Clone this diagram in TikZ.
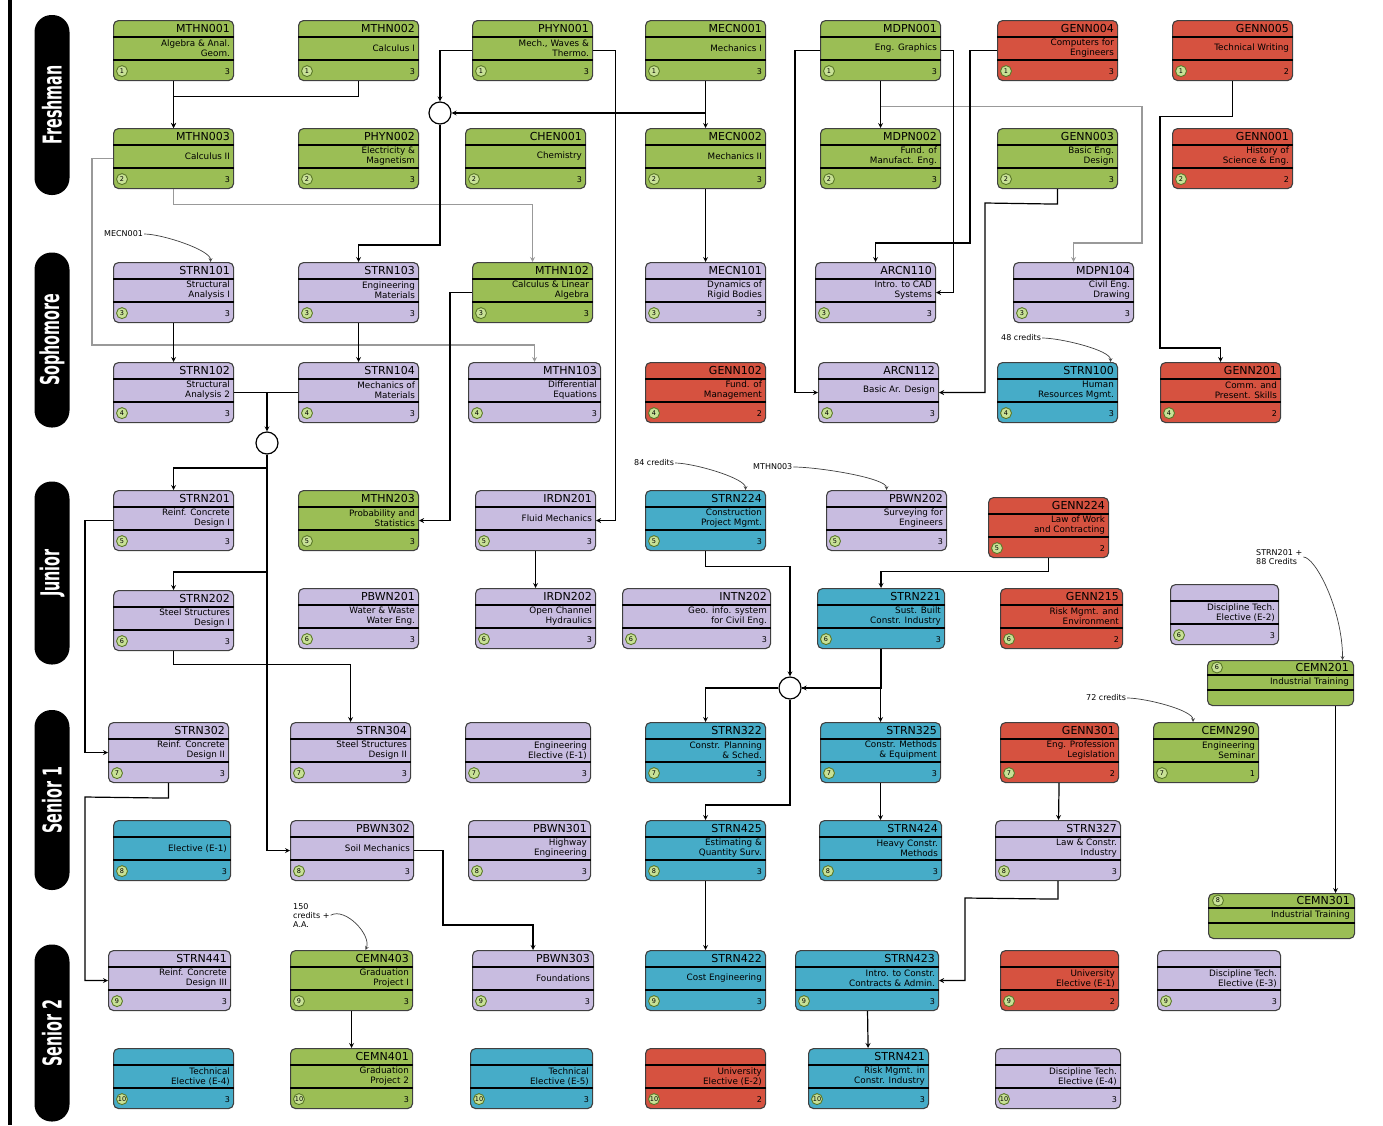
\documentclass[tikz,border=0pt]{standalone}
\usepackage{fontspec}
\usepackage{graphicx}
\setmainfont{DejaVu Sans}
\usetikzlibrary{calc}

\definecolor{crsgreen}{RGB}{155,190,85}
\definecolor{crspurple}{RGB}{200,188,224}
\definecolor{crsred}{RGB}{214,82,64}
\definecolor{crscyan}{RGB}{70,172,200}
\definecolor{semgreen}{RGB}{200,225,150}
\definecolor{semring}{RGB}{90,120,40}

\tikzset{
  course/.style={draw=black!75, line width=1.1pt, rounded corners=5pt, minimum height=60pt, inner sep=0pt},
  band/.style={line width=1.1pt, black},
  codetxt/.style={font=\fontsize{11}{12}\selectfont, inner sep=0pt},
  titletxt/.style={font=\fontsize{8.8}{10}\selectfont, align=right, inner sep=0pt},
  semdot/.style={circle, draw=semring, line width=0.9pt, fill=semgreen, minimum size=11pt, inner sep=0pt, font=\fontsize{6.5}{7}\selectfont},
  credtxt/.style={font=\fontsize{8}{8}\selectfont, inner sep=0pt},
  prereq/.style={->, line width=1.2pt},
  softreq/.style={->, line width=1.2pt, black!40},
  junction/.style={circle, draw, line width=1.2pt, fill=white, minimum size=22pt, inner sep=0pt},
  yearbar/.style={fill=black, text=white, rounded corners=17pt, minimum height=35pt, inner sep=0pt, rotate=90, font=\bfseries\fontsize{26}{26}\selectfont},
  annot/.style={->, line width=0.7pt, black!75},
  annottxt/.style={font=\fontsize{8}{9}\selectfont, inner sep=1pt, align=left},
}

% course box: [width] name, x, y, colour, code, title, semester, credits
\newcommand{\course}[9][120]{%
  \node[course, minimum width=#1pt, fill=#5, anchor=north west] (#2) at (#3,#4) {};
  \draw[band] ([yshift=-17pt]#2.north west) -- ([yshift=-17pt]#2.north east);
  \draw[band] ([yshift=-40pt]#2.north west) -- ([yshift=-40pt]#2.north east);
  \node[codetxt, anchor=east] (#2-code) at ([xshift=-4pt,yshift=-8.5pt]#2.north east) {#6};
  \node[titletxt, anchor=east] (#2-title) at ([xshift=-4pt,yshift=-28.5pt]#2.north east) {#7};
  \node[semdot] (#2-sem) at ([xshift=9pt,yshift=10pt]#2.south west) {#8};
  \node[credtxt, anchor=east] (#2-cr) at ([xshift=-4pt,yshift=10pt]#2.south east) {#9};
}
% training box: name, x, y, code, semester
\newcommand{\training}[5]{%
  \node[course, minimum width=146pt, minimum height=45pt, fill=crsgreen, anchor=north west] (#1) at (#2,#3) {};
  \draw[band] ([yshift=-15pt]#1.north west) -- ([yshift=-15pt]#1.north east);
  \draw[band] ([yshift=-30pt]#1.north west) -- ([yshift=-30pt]#1.north east);
  \node[semdot] (#1-sem) at ([xshift=10pt,yshift=-7.5pt]#1.north west) {#5};
  \node[codetxt, anchor=east] (#1-code) at ([xshift=-5pt,yshift=-7.5pt]#1.north east) {#4};
  \node[titletxt, anchor=east] (#1-title) at ([xshift=-5pt,yshift=-22.5pt]#1.north east) {Industrial Training};
}
\newcommand{\yeartext}[1]{\scalebox{0.55}[1]{#1}}

\begin{document}
\begin{tikzpicture}[x=1pt,y=-1pt,>=stealth]
  \fill[white] (0,0) rectangle (1383,1125);
  \useasboundingbox (0,0) rectangle (1383,1125);

  \draw[line width=4pt] (10,0) -- (10,1125);

  \node[yearbar, minimum width=180pt] (yr1) at (52,105) {\yeartext{Freshman}};
  \node[yearbar, minimum width=175pt] (yr2) at (52,340) {\yeartext{Sophomore}};
  \node[yearbar, minimum width=183pt] (yr3) at (52,573) {\yeartext{Junior}};
  \node[yearbar, minimum width=180pt] (yr4) at (52,800) {\yeartext{Senior 1}};
  \node[yearbar, minimum width=177pt] (yr5) at (52,1033) {\yeartext{Senior 2}};

  % Freshman
  \course{mthn1}{113}{20}{crsgreen}{MTHN001}{Algebra \& Anal.\\Geom.}{1}{3}
  \course{mthn2}{298}{20}{crsgreen}{MTHN002}{Calculus I}{1}{3}
  \course{phyn1}{472}{20}{crsgreen}{PHYN001}{Mech., Waves \&\\Thermo.}{1}{3}
  \course{mecn1}{645}{20}{crsgreen}{MECN001}{Mechanics I}{1}{3}
  \course{mdpn1}{820}{20}{crsgreen}{MDPN001}{Eng. Graphics}{1}{3}
  \course{genn4}{997}{20}{crsred}{GENN004}{Computers for\\Engineers}{1}{3}
  \course{genn5}{1172}{20}{crsred}{GENN005}{Technical Writing}{1}{2}

  \course{mthn3}{113}{128}{crsgreen}{MTHN003}{Calculus II}{2}{3}
  \course{phyn2}{298}{128}{crsgreen}{PHYN002}{Electricity \&\\Magnetism}{2}{3}
  \course{chen1}{465}{128}{crsgreen}{CHEN001}{Chemistry}{2}{3}
  \course{mecn2}{645}{128}{crsgreen}{MECN002}{Mechanics II}{2}{3}
  \course{mdpn2}{820}{128}{crsgreen}{MDPN002}{Fund. of\\Manufact. Eng.}{2}{3}
  \course{genn3}{997}{128}{crsgreen}{GENN003}{Basic Eng.\\Design}{2}{3}
  \course{genn1}{1172}{128}{crsred}{GENN001}{History of\\Science \& Eng.}{2}{2}

  % Sophomore
  \course{strn101}{113}{262}{crspurple}{STRN101}{Structural\\Analysis I}{3}{3}
  \course{strn103}{298}{262}{crspurple}{STRN103}{Engineering\\Materials}{3}{3}
  \course{mthn102}{472}{262}{crsgreen}{MTHN102}{Calculus \& Linear\\Algebra}{3}{3}
  \course{mecn101}{645}{262}{crspurple}{MECN101}{Dynamics of\\Rigid Bodies}{3}{3}
  \course{arcn110}{815}{262}{crspurple}{ARCN110}{Intro. to CAD\\Systems}{3}{3}
  \course{mdpn104}{1013}{262}{crspurple}{MDPN104}{Civil Eng.\\Drawing}{3}{3}

  \course{strn102}{113}{362}{crspurple}{STRN102}{Structural\\Analysis 2}{4}{3}
  \course{strn104}{298}{362}{crspurple}{STRN104}{Mechanics of\\Materials}{4}{3}
  \course[132]{mthn103}{468}{362}{crspurple}{MTHN103}{Differential\\Equations}{4}{3}
  \course{genn102}{645}{362}{crsred}{GENN102}{Fund. of\\Management}{4}{2}
  \course{arcn112}{818}{362}{crspurple}{ARCN112}{Basic Ar. Design}{4}{3}
  \course{strn100}{997}{362}{crscyan}{STRN100}{Human\\Resources Mgmt.}{4}{3}
  \course{genn201}{1160}{362}{crsred}{GENN201}{Comm. and\\Present. Skills}{4}{2}

  % Junior
  \course{strn201}{113}{490}{crspurple}{STRN201}{Reinf. Concrete\\Design I}{5}{3}
  \course{mthn203}{298}{490}{crsgreen}{MTHN203}{Probability and\\Statistics}{5}{3}
  \course{irdn201}{475}{490}{crspurple}{IRDN201}{Fluid Mechanics}{5}{3}
  \course{strn224}{645}{490}{crscyan}{STRN224}{Construction\\Project Mgmt.}{5}{3}
  \course{pbwn202}{826}{490}{crspurple}{PBWN202}{Surveying for\\Engineers}{5}{3}
  \course{genn224}{988}{497}{crsred}{GENN224}{Law of Work\\and Contracting}{5}{2}

  \course{strn202}{113}{590}{crspurple}{STRN202}{Steel Structures\\Design I}{6}{3}
  \course{pbwn201}{298}{588}{crspurple}{PBWN201}{Water \& Waste\\Water Eng.}{6}{3}
  \course{irdn202}{475}{588}{crspurple}{IRDN202}{Open Channel\\Hydraulics}{6}{3}
  \course[148]{intn202}{622}{588}{crspurple}{INTN202}{Geo. info. system\\for Civil Eng.}{6}{3}
  \course[127]{strn221}{817}{588}{crscyan}{STRN221}{Sust. Built\\Constr. Industry}{6}{3}
  \course[122]{genn215}{1000}{588}{crsred}{GENN215}{Risk Mgmt. and\\Environment}{6}{2}
  \course[108]{disc2}{1170}{584}{crspurple}{}{Discipline Tech.\\Elective (E-2)}{6}{3}

  \training{cemn201}{1207}{660}{CEMN201}{6}

  % Senior 1
  \course{strn302}{108}{722}{crspurple}{STRN302}{Reinf. Concrete\\Design II}{7}{3}
  \course{strn304}{290}{722}{crspurple}{STRN304}{Steel Structures\\Design II}{7}{3}
  \course[125]{engel1}{465}{722}{crspurple}{}{Engineering\\Elective (E-1)}{7}{3}
  \course{strn322}{645}{722}{crscyan}{STRN322}{Constr. Planning\\\& Sched.}{7}{3}
  \course{strn325}{820}{722}{crscyan}{STRN325}{Constr. Methods\\\& Equipment}{7}{3}
  \course[118]{genn301}{1000}{722}{crsred}{GENN301}{Eng. Profession\\Legislation}{7}{2}
  \course[105]{cemn290}{1153}{722}{crsgreen}{CEMN290}{Engineering\\Seminar}{7}{1}

  \course[117]{elec1}{113}{820}{crscyan}{}{Elective (E-1)}{8}{3}
  \course[123]{pbwn302}{290}{820}{crspurple}{PBWN302}{Soil Mechanics}{8}{3}
  \course[122]{pbwn301}{468}{820}{crspurple}{PBWN301}{Highway\\Engineering}{8}{3}
  \course{strn425}{645}{820}{crscyan}{STRN425}{Estimating \&\\Quantity Surv.}{8}{3}
  \course[122]{strn424}{819}{820}{crscyan}{STRN424}{Heavy Constr.\\Methods}{8}{3}
  \course[125]{strn327}{995}{820}{crspurple}{STRN327}{Law \& Constr.\\Industry}{8}{3}

  \training{cemn301}{1208}{893}{CEMN301}{8}

  % Senior 2
  \course[122]{strn441}{108}{950}{crspurple}{STRN441}{Reinf. Concrete\\Design III}{9}{3}
  \course[122]{cemn403}{290}{950}{crsgreen}{CEMN403}{Graduation\\Project I}{9}{3}
  \course[121]{pbwn303}{472}{950}{crspurple}{PBWN303}{Foundations}{9}{3}
  \course{strn422}{645}{950}{crscyan}{STRN422}{Cost Engineering}{9}{3}
  \course[143]{strn423}{795}{950}{crscyan}{STRN423}{Intro. to Constr.\\Contracts \& Admin.}{9}{3}
  \course[118]{univ1}{1000}{950}{crsred}{}{University\\Elective (E-1)}{9}{2}
  \course[123]{disc3}{1157}{950}{crspurple}{}{Discipline Tech.\\Elective (E-3)}{9}{3}

  \course{tech4}{113}{1048}{crscyan}{}{Technical\\Elective (E-4)}{10}{3}
  \course[122]{cemn401}{290}{1048}{crsgreen}{CEMN401}{Graduation\\Project 2}{10}{3}
  \course[122]{tech5}{470}{1048}{crscyan}{}{Technical\\Elective (E-5)}{10}{3}
  \course{univ2}{645}{1048}{crsred}{}{University\\Elective (E-2)}{10}{2}
  \course{strn421}{808}{1048}{crscyan}{STRN421}{Risk Mgmt. in\\Constr. Industry}{10}{3}
  \course[125]{disc4}{995}{1048}{crspurple}{}{Discipline Tech.\\Elective (E-4)}{10}{3}

  % junctions
  \node[junction] (and1) at (440,113) {};
  \node[junction] (and2) at (267,443) {};
  \node[junction] (and3) at (790,688) {};

  % grey prerequisites
  \draw[softreq] (mthn3.south) -- ++(0,15) -| (mthn102.north);
  \draw[softreq] (mthn3.west) -- ++(-21,0) -- (92,345) -| (mthn103.north);
  \draw[softreq] (mdpn1.south) -- ++(0,25) -| (1142,243) -| (mdpn104.north);

  % prerequisites
  \draw[prereq] (mthn1) -- (mthn3);
  \draw[prereq] (mthn2.south) -- ++(0,15) -| (mthn3.north);
  \draw[prereq] (phyn1.west) -| (and1.north);
  \draw[prereq] (mecn1) -- (mecn2);
  \draw[prereq] (mecn1.south |- and1) -- (and1.east);
  \draw[prereq] (and1.south) -- (440,245) -| (strn103.north);
  \draw[prereq] (strn101) -- (strn102);
  \draw[prereq] (strn103) -- (strn104);
  \draw[prereq] (mthn102.west) -- ++(-22,0) |- (mthn203.east);
  \draw[prereq] (phyn1.east) -- ++(22,0) |- (irdn201.east);
  \draw[prereq] (mecn2) -- (mecn101);
  \draw[prereq] (mdpn1.west) -- ++(-25,0) |- (arcn112.west);
  \draw[prereq] (mdpn1.east) -- ++(12,0) |- (arcn110.east);
  \draw[prereq] (mdpn1) -- (mdpn2);
  \draw[prereq] (genn4.west) -- ++(-27,0) -- (970,243) -| (arcn110.north);
  \draw[prereq] (genn5.south) -- ++(0,35) -| (1160,348) -| (genn201.north);
  \draw[prereq] (genn3.south) -- ++(0,15) -- (985,203) |- (arcn112.east);

  \draw[line width=1.2pt] (strn102.east) -- (strn104.west);
  \draw[prereq] (strn102.east -| and2) -- (and2.north);
  \draw[prereq] (and2.south) -- (267,468) -| (strn201.north);
  \draw[prereq] (and2.south) -- (267,572) -| (strn202.north);
  \draw[prereq] (and2.south) |- (pbwn302.west);
  \draw[prereq] (strn202.south) -- ++(0,13) -| (strn304.north);
  \draw[prereq] (strn201.west) -- ++(-28,0) |- (strn302.west);
  \draw[prereq] (strn302.south) -- ++(0,15) -- (85,797) |- (strn441.west);
  \draw[prereq] (irdn201) -- (irdn202);

  \draw[prereq] (strn224.south) -- ++(0,15) -| (and3.north);
  \draw[prereq] (strn221.south) |- (and3.east);
  \draw[prereq] (and3.east) -| (strn325.north);
  \draw[prereq] (and3.west) -| (strn322.north);
  \draw[prereq] (and3.south) -- (790,805) -| (strn425.north);
  \draw[prereq] (genn224.south) -- ++(0,13) -| (strn221.north);
  \draw[prereq] (strn325) -- (strn424);
  \draw[prereq] (strn425) -- (strn422);
  \draw[prereq] (genn301) -- (strn327);
  \draw[prereq] (strn327.south) -- ++(0,18) -- (965,898) |- (strn423.east);
  \draw[prereq] (strn423) -- (strn421);
  \draw[prereq] (cemn403) -- (cemn401);
  \draw[prereq] (pbwn302.east) -| (443,925) -| (pbwn303.north);
  \draw[prereq] ([xshift=55pt]cemn201.south) -- ([xshift=55pt]cemn201.south |- cemn301.north);

  % credit notes
  \node[annottxt, anchor=west] (nMecn) at (103,234) {MECN001};
  \draw[annot] (nMecn.east) .. controls +(18,0) and +(0,-12) .. ([xshift=37pt]strn101.north);
  \node[annottxt, anchor=west] (n48) at (1000,338) {48 credits};
  \draw[annot] (n48.east) .. controls +(18,0) and +(0,-12) .. ([xshift=53pt]strn100.north);
  \node[annottxt, anchor=west] (n84) at (633,463) {84 credits};
  \draw[annot] (n84.east) .. controls +(18,0) and +(0,-12) .. ([xshift=40pt]strn224.north);
  \node[annottxt, anchor=west] (nMth) at (752,467) {MTHN003};
  \draw[annot] (nMth.east) .. controls +(25,0) and +(0,-12) .. (pbwn202.north);
  \node[annottxt, anchor=west] (n88) at (1255,557) {STRN201 +\\88 Credits};
  \draw[annot] (n88.east) .. controls +(12,0) and +(0,-50) .. ([xshift=62pt]cemn201.north);
  \node[annottxt, anchor=west] (n72) at (1085,698) {72 credits};
  \draw[annot] (n72.east) .. controls +(18,0) and +(0,-12) .. ([xshift=-13pt]cemn290.north);
  \node[annottxt, anchor=north west] (n150) at (292,902) {150\\credits +\\A.A.};
  \draw[annot] (n150.east) .. controls +(15,-8) and +(6,-15) .. ([xshift=14pt]cemn403.north);
\end{tikzpicture}
\end{document}
